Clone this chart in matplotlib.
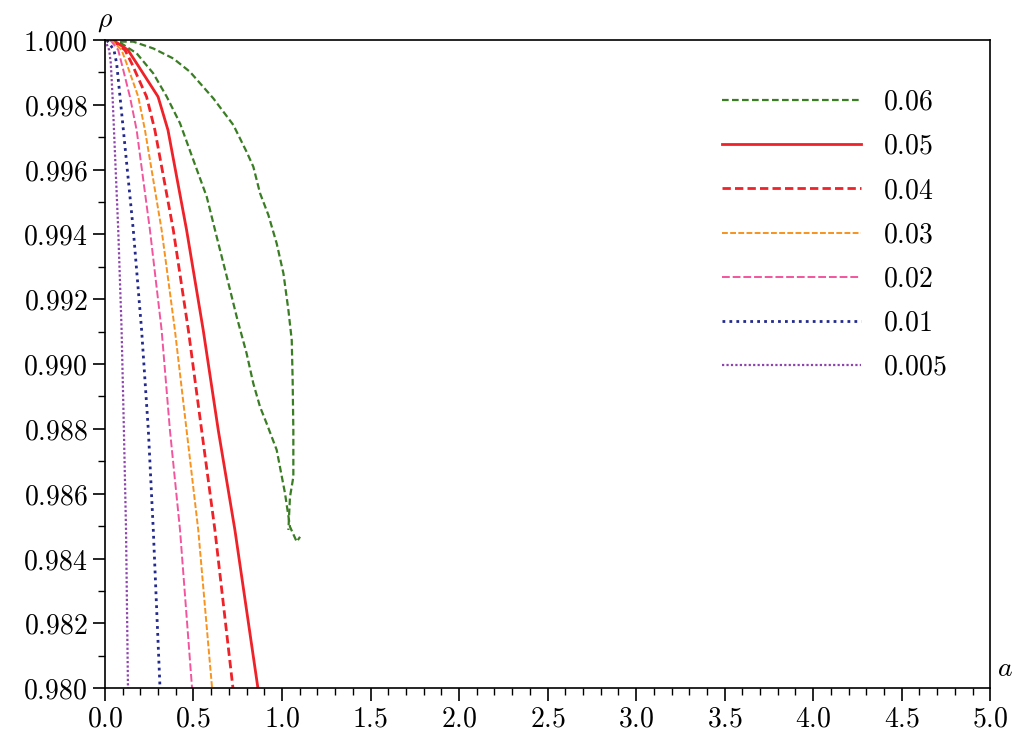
import matplotlib
matplotlib.use("Agg")
import matplotlib.pyplot as plt
from matplotlib.ticker import MultipleLocator, FuncFormatter

plt.rcParams["mathtext.fontset"] = "cm"
plt.rcParams["font.family"] = "serif"
plt.rcParams["font.serif"] = ["DejaVu Serif"]

# rho levels at which the curves were read
rho_lv = [1.0, 0.99969, 0.99928, 0.99825, 0.99722, 0.99414, 0.99105, 0.98796, 0.98488, 0.98]
a_005 = [0.045, 0.130, 0.179, 0.300, 0.356, 0.461, 0.555, 0.640, 0.734, 0.864]
a_004 = [0.040, 0.113, 0.151, 0.235, 0.282, 0.386, 0.471, 0.546, 0.621, 0.723]
a_003 = [0.035, 0.094, 0.122, 0.188, 0.226, 0.320, 0.395, 0.461, 0.527, 0.605]
a_002 = [0.030, 0.075, 0.094, 0.141, 0.179, 0.254, 0.320, 0.367, 0.424, 0.492]
a_001 = [0.010, 0.051, 0.066, 0.085, 0.104, 0.160, 0.207, 0.245, 0.273, 0.311]
a_0005 = [0.0, 0.024, 0.033, 0.043, 0.051, 0.075, 0.094, 0.107, 0.119, 0.130]

# 0.06 curve: outer branch and inner branch
g_out_a = [0.03, 0.066, 0.160, 0.273, 0.386, 0.480, 0.612, 0.725, 0.800, 0.838, 0.876,
           0.923, 0.970, 1.008, 1.036, 1.055, 1.060, 1.064, 1.064, 1.045, 1.036]
g_out_r = [1.0, 0.99995, 0.99995, 0.99974, 0.99943, 0.99902, 0.99820, 0.99738, 0.99655,
           0.99609, 0.99527, 0.99460, 0.99372, 0.99280, 0.99167, 0.99074, 0.98951,
           0.98796, 0.98652, 0.98590, 0.98488]
g_in_a = [0.03, 0.085, 0.179, 0.273, 0.349, 0.424, 0.499, 0.575, 0.631, 0.688, 0.744, 0.800,
          0.838, 0.876, 0.913, 0.970, 1.017, 1.045, 1.083, 1.102]
g_in_r = [1.0, 0.99992, 0.99959, 0.99897, 0.99825, 0.99743, 0.99630, 0.99516, 0.99393,
          0.99270, 0.99146, 0.99033, 0.98940, 0.98868, 0.98817, 0.98735, 0.98601,
          0.98498, 0.98452, 0.98467]

green, red, orange = "#3a7d24", "#ee2228", "#f7931e"
pink, blue, purple = "#f2559d", "#232a8c", "#8e44ad"

fig = plt.figure(figsize=(10.24, 7.48), dpi=100)
ax = fig.add_axes([0.1025, 0.080, 0.8645, 0.8665])

ax.plot(g_out_a, g_out_r, color=green, ls=(0, (3, 1.5)), lw=1.6, label="$0.06$")
ax.plot(g_in_a, g_in_r, color=green, ls=(0, (3, 1.5)), lw=1.6)
ax.plot(a_005, rho_lv, color=red, ls="-", lw=2.0, label="$0.05$")
ax.plot(a_004, rho_lv, color=red, ls=(0, (3, 1.5)), lw=2.0, label="$0.04$")
ax.plot(a_003, rho_lv, color=orange, ls=(0, (3, 1.2)), lw=1.4, label="$0.03$")
ax.plot(a_002, rho_lv, color=pink, ls=(0, (4, 1.5)), lw=1.4, label="$0.02$")
ax.plot(a_001, rho_lv, color=blue, ls=(0, (1, 1.5)), lw=2.0, label="$0.01$")
ax.plot(a_0005, rho_lv, color=purple, ls=(0, (1, 1)), lw=1.6, label="$0.005$")

ax.set_xlim(0, 5)
ax.set_ylim(0.98, 1.0)
ax.xaxis.set_major_locator(MultipleLocator(0.5))
ax.xaxis.set_minor_locator(MultipleLocator(0.1))
ax.yaxis.set_major_locator(MultipleLocator(0.002))
ax.yaxis.set_minor_locator(MultipleLocator(0.001))
ax.xaxis.set_major_formatter(FuncFormatter(lambda v, p: f"${v:.1f}$"))
ax.yaxis.set_major_formatter(FuncFormatter(lambda v, p: f"${v:.3f}$"))
ax.tick_params(which="major", direction="out", length=9, width=1.2, labelsize=20)
ax.tick_params(which="minor", direction="out", length=5, width=1.0)
for s in ax.spines.values():
    s.set_linewidth(1.2)

ax.text(0.0, 1.01, r"$\rho$", transform=ax.transAxes, fontsize=20, ha="center", va="bottom")
ax.text(1.008, 0.01, r"$a$", transform=ax.transAxes, fontsize=20, ha="left", va="bottom")

ax.legend(loc="upper right", frameon=False, fontsize=20, handlelength=5.0,
          labelspacing=0.62, borderaxespad=1.0, bbox_to_anchor=(0.995, 0.985))

fig.savefig("out.png", dpi=100)
